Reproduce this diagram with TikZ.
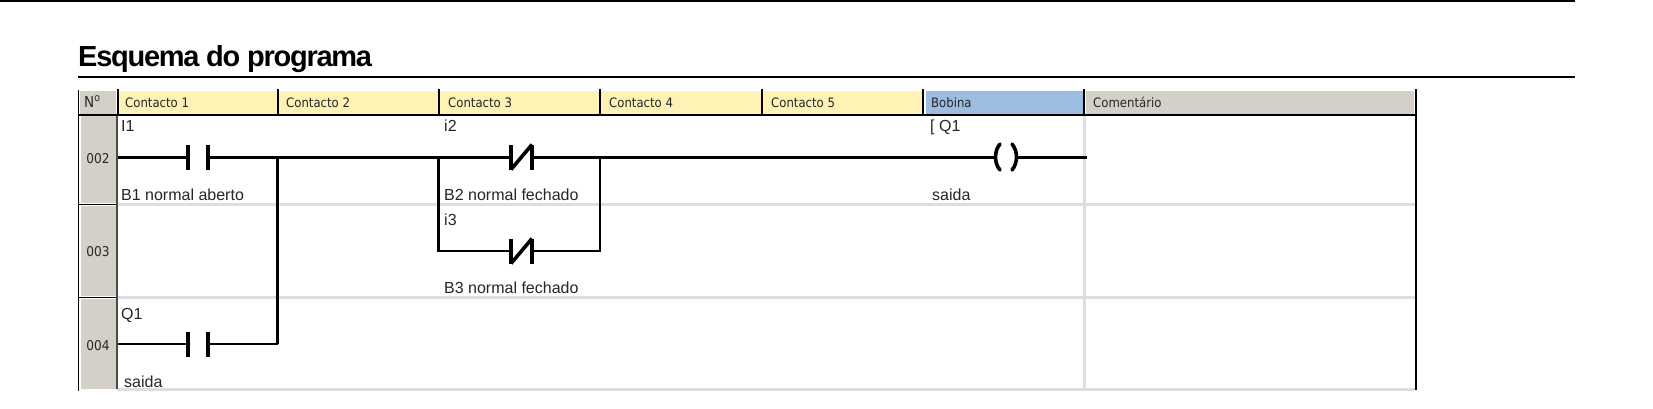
\documentclass[tikz,border=0pt]{standalone}
\usepackage{fontspec}
\setmainfont{Liberation Sans}
\newfontfamily\hdrfont{DejaVu Sans Condensed}
\newfontfamily\titlefont[LetterSpace=-4.4]{Liberation Sans Bold}
\definecolor{hdyellow}{HTML}{FFF2B5}
\definecolor{hdblue}{HTML}{9DBDE0}
\definecolor{hdgray}{HTML}{D4D0C8}
\definecolor{gridgray}{HTML}{DEDEDE}
\begin{document}
\begin{tikzpicture}[x=1pt,y=-1pt,
  wire/.style={line width=3pt,line cap=butt},
  thinwire/.style={line width=2.2pt},
  plate/.style={line width=3.6pt},
  sep/.style={line width=2pt,black},
  gridline/.style={line width=3pt,gridgray},
  title/.style={anchor=base west,inner sep=0pt,font=\titlefont\fontsize{29}{29}\selectfont,text=black},
  head/.style={anchor=base west,inner sep=0pt,font=\hdrfont\fontsize{13}{13}\selectfont,text=black!85},
  lbl/.style={anchor=base west,inner sep=0pt,font=\fontsize{16}{16}\selectfont,text=black!85},
  num/.style={anchor=center,inner sep=0pt,font=\hdrfont\fontsize{13.5}{13.5}\selectfont,text=black!85}]
\useasboundingbox (0,0) rectangle (1653,408);
\fill[white] (0,0) rectangle (1653,408);
% rules
\draw[line width=2pt] (0,0.5) -- (1575,0.5);
\node[title] (ttl) at (78,66) {Esquema do programa};
\draw[line width=2pt] (78,77) -- (1575,77);
% header fills
\fill[hdgray] (80,91) rectangle (116,114);
\fill[hdyellow] (119,91) rectangle (922,114);
\fill[hdblue] (926,91) rectangle (1083,114);
\fill[hdgray] (1086,91) rectangle (1414,114);
% row number cells
\fill[hdgray] (81,116) rectangle (116,203);
\fill[hdgray] (81,206) rectangle (116,296);
\fill[hdgray] (81,299) rectangle (116,389);
% grid
\draw[gridline] (117,204.5) -- (1415,204.5);
\draw[gridline,line width=2.4pt] (117,297.5) -- (1415,297.5);
\draw[gridline,line width=2.4pt] (117,389.5) -- (1415,389.5);
\draw[gridline] (1084,116) -- (1084,390);
% outer/sep lines
\draw[line width=1.3pt] (78.5,90) -- (78.5,391);
\draw[line width=1pt] (78,204) -- (116,204);
\draw[line width=1pt] (78,297) -- (116,297);
\draw[line width=1.5pt,black!70] (117,115) -- (117,389);
\draw[line width=2.4pt] (78,115) -- (1415,115);
\foreach \x in {117.5,277.5,438.5,600,761.5,923,1084} \draw[sep] (\x,89) -- (\x,115);
\draw[line width=2pt] (1415.5,89) -- (1415.5,390);
% header text
\node[head] (h0) at (84,107) {\fontsize{15}{15}\selectfont N\textsuperscript{o}};
\node[head] (h1) at (125,107) {Contacto 1};
\node[head] (h2) at (286,107) {Contacto 2};
\node[head] (h3) at (448,107) {Contacto 3};
\node[head] (h4) at (609,107) {Contacto 4};
\node[head] (h5) at (771,107) {Contacto 5};
\node[head] (h6) at (931,107) {Bobina};
\node[head] (h7) at (1093,107) {Comentário};
% row numbers
\node[num] (n2) at (98,159) {002};
\node[num] (n3) at (98,252) {003};
\node[num] (n4) at (98,346) {004};
% labels
\node[lbl] (a1) at (121,131) {I1};
\node[lbl] (a2) at (121,200) {B1 normal aberto};
\node[lbl] (a3) at (444,131) {i2};
\node[lbl] (a4) at (444,200) {B2 normal fechado};
\node[lbl] (a5) at (444,225) {i3};
\node[lbl] (a6) at (444,293) {B3 normal fechado};
\node[lbl] (a7) at (121,319) {Q1};
\node[lbl] (a8) at (124,387) {saida};
\node[lbl] (a9) at (930,131) {[ Q1};
\node[lbl] (a10) at (932,200) {saida};
% junction coordinates
\coordinate (s2) at (118,157);
\coordinate (c1l) at (188,157);
\coordinate (c1r) at (208,157);
\coordinate (j1) at (277.5,157);
\coordinate (j2) at (438.5,157);
\coordinate (c2l) at (511,157);
\coordinate (c2r) at (532,157);
\coordinate (j3) at (600,157);
\coordinate (k1) at (996,157);
\coordinate (k2) at (1016,157);
\coordinate (e2) at (1087,157);
\coordinate (b1) at (438.5,251);
\coordinate (c3l) at (511,251);
\coordinate (c3r) at (532,251);
\coordinate (b2) at (600,251);
\coordinate (s4) at (118,344);
\coordinate (c4l) at (188,344);
\coordinate (c4r) at (208,344);
\coordinate (b3) at (277.5,344);
% wires
\draw[wire] (s2) -- (c1l);
\draw[wire] (c1r) -- (j1) -- (j2) -- (c2l);
\draw[wire] (c2r) -- (j3) -- (k1);
\draw[wire] (k2) -- (e2);
\draw[thinwire,line join=miter] (j2) -- (b1) -- (c3l);
\draw[thinwire,line join=miter] (c3r) -- (b2) -- (j3);
\draw[thinwire] (s4) -- (c4l);
\draw[thinwire,line join=miter] (c4r) -- (b3);
\draw[wire] (b3) -- (j1);
% contact symbols
\foreach \c/\d in {c1l/c1r,c4l/c4r}{
  \draw[plate] ([yshift=-12.5pt]\c) -- ([yshift=12.5pt]\c);
  \draw[plate] ([yshift=-12.5pt]\d) -- ([yshift=12.5pt]\d);
}
\foreach \c/\d in {c2l/c2r,c3l/c3r}{
  \draw[plate] ([yshift=-12.5pt]\c) -- ([yshift=12.5pt]\c);
  \draw[plate] ([yshift=-12.5pt]\d) -- ([yshift=12.5pt]\d);
  \draw[plate] ([yshift=-12.5pt]\c) -- ([yshift=12.5pt]\d);
}
% coil
\draw[line width=3.6pt,line cap=round] (1000,144) .. controls (994,151) and (994,163) .. (1000,170);
\draw[line width=3.6pt,line cap=round] (1012,144) .. controls (1018,151) and (1018,163) .. (1012,170);
\end{tikzpicture}
\end{document}
